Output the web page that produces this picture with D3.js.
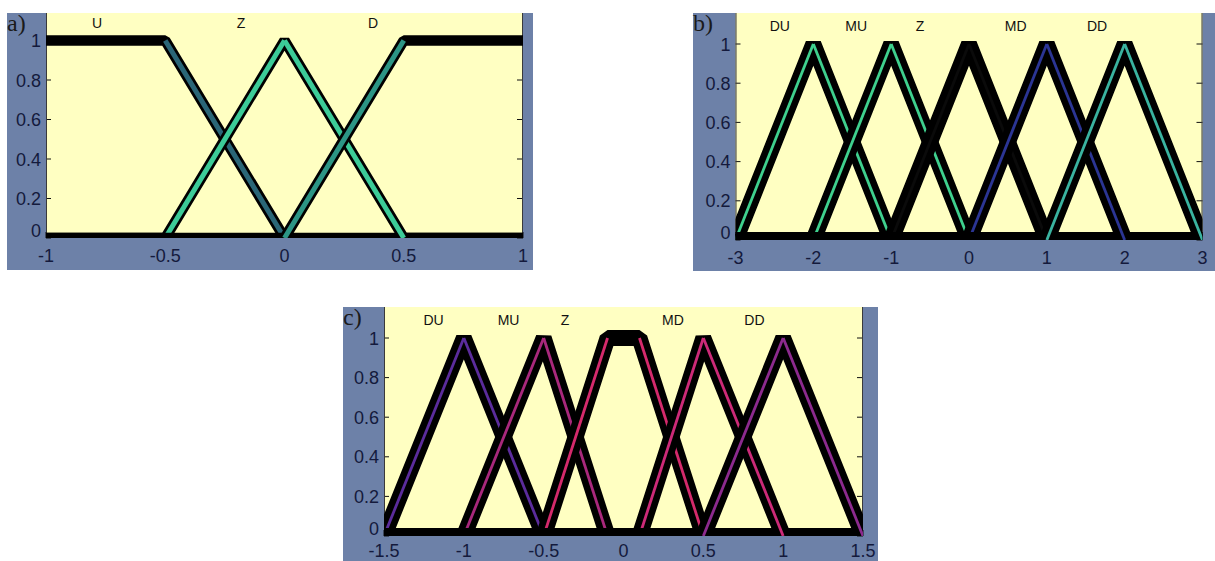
<!DOCTYPE html>
<html>
<head>
<meta charset="utf-8">
<script src="https://cdn.jsdelivr.net/npm/d3@7"></script>
<style>
  html, body { margin: 0; padding: 0; background: #ffffff; }
  svg { display: block; }
</style>
</head>
<body>
<svg id="fig" width="1215" height="561"></svg>
<script>
// ---- shared y axis ----
const yTicks = [0, 0.2, 0.4, 0.6, 0.8, 1];
const yTickLabels = ["0", "0.2", "0.4", "0.6", "0.8", "1"];

// ---- a) three membership functions on [-1, 1] ----
const aTicks = [-1, -0.5, 0, 0.5, 1];
const aTickLabels = ["-1", "-0.5", "0", "0.5", "1"];
const aNames = ["U", "Z", "D"];
const aLabelX = [-0.786, -0.182, 0.371];
const aU = [[-1, 1], [-0.5, 1], [0, 0], [1, 0]];
const aZ = [[-1, 0], [-0.5, 0], [0, 1], [0.5, 0], [1, 0]];
const aD = [[-1, 0], [0, 0], [0.5, 1], [1, 1]];

// ---- b) five membership functions on [-3, 3] ----
const bTicks = [-3, -2, -1, 0, 1, 2, 3];
const bTickLabels = ["-3", "-2", "-1", "0", "1", "2", "3"];
const bNames = ["DU", "MU", "Z", "MD", "DD"];
const bLabelX = [-2.43, -1.45, -0.63, 0.6, 1.645];
const bDU = [[-3, 0], [-2, 1], [-1, 0], [3, 0]];
const bMU = [[-3, 0], [-2, 0], [-1, 1], [0, 0], [3, 0]];
const bZ  = [[-3, 0], [-1, 0], [0, 1], [1, 0], [3, 0]];
const bMD = [[-3, 0], [0, 0], [1, 1], [2, 0], [3, 0]];
const bDD = [[-3, 0], [1, 0], [2, 1], [3, 0]];

// ---- c) five membership functions on [-1.5, 1.5] ----
const cTicks = [-1.5, -1, -0.5, 0, 0.5, 1, 1.5];
const cTickLabels = ["-1.5", "-1", "-0.5", "0", "0.5", "1", "1.5"];
const cNames = ["DU", "MU", "Z", "MD", "DD"];
const cLabelX = [-1.19, -0.72, -0.366, 0.31, 0.82];
const cDU = [[-1.5, 0], [-1, 1], [-0.5, 0], [1.5, 0]];
const cMU = [[-1.5, 0], [-1, 0], [-0.5, 1], [-0.1, 0], [1.5, 0]];
const cZ  = [[-1.5, 0], [-0.5, 0], [-0.1, 1], [0.1, 1], [0.5, 0], [1.5, 0]];
const cMD = [[-1.5, 0], [0.1, 0], [0.5, 1], [1, 0], [1.5, 0]];
const cDD = [[-1.5, 0], [0.5, 0], [1, 1], [1.5, 0]];

const panels = [
  {
    id: "a", tag: "a)",
    frame: { x0: 7, x1: 533, y0: 13, y1: 270 },
    plot: { left: 46, right: 523, top: 13, zero: 238, one: 40.5 },
    domain: [-1, 1], ticks: aTicks, tickLabels: aTickLabels,
    names: aNames, labelX: aLabelX,
    curves: [aU, aZ, aD],
    colors: ["#2a6677", "#3ccb98", "#2c9585"],
    outer: 10.5, inner: 5, labelDy: 23.5
  },
  {
    id: "b", tag: "b)",
    frame: { x0: 693, x1: 1215, y0: 13, y1: 271 },
    plot: { left: 735.5, right: 1202.5, top: 13, zero: 240, one: 44 },
    domain: [-3, 3], ticks: bTicks, tickLabels: bTickLabels,
    names: bNames, labelX: bLabelX,
    curves: [bDU, bMU, bZ, bMD, bDD],
    colors: ["#3fd08e", "#3fd08e", "#0a0a0a", "#2b3594", "#3ab3a0"],
    outer: 16, inner: 2.8, labelDy: 23.5
  },
  {
    id: "c", tag: "c)",
    frame: { x0: 343, x1: 878, y0: 307, y1: 561 },
    plot: { left: 384, right: 863, top: 307, zero: 536, one: 338 },
    domain: [-1.5, 1.5], ticks: cTicks, tickLabels: cTickLabels,
    names: cNames, labelX: cLabelX,
    curves: [cDU, cMU, cZ, cMD, cDD],
    colors: ["#5b2c9c", "#a8287c", "#d42a6c", "#cc2a78", "#8c2a8e"],
    outer: 16, inner: 2.8, labelDy: 20.5
  }
];

const svg = d3.select("#fig");
svg.append("rect").attr("width", 1215).attr("height", 561).attr("fill", "#ffffff");

const tickFont = "'Liberation Sans', Arial, sans-serif";

panels.forEach(p => {
  const g = svg.append("g");
  const x = d3.scaleLinear().domain(p.domain).range([p.plot.left, p.plot.right]);
  const y = d3.scaleLinear().domain([0, 1]).range([p.plot.zero, p.plot.one]);

  // figure background
  g.append("rect")
    .attr("x", p.frame.x0).attr("y", p.frame.y0)
    .attr("width", p.frame.x1 - p.frame.x0).attr("height", p.frame.y1 - p.frame.y0)
    .attr("fill", "#6d81a8");

  // axes area
  g.append("rect")
    .attr("x", p.plot.left).attr("y", p.plot.top)
    .attr("width", p.plot.right - p.plot.left).attr("height", p.plot.zero - p.plot.top)
    .attr("fill", "#ffffc2");

  const clipId = "clip-" + p.id;
  svg.append("clipPath").attr("id", clipId)
    .append("rect")
    .attr("x", p.plot.left).attr("y", p.plot.top)
    .attr("width", p.plot.right - p.plot.left).attr("height", p.plot.zero - p.plot.top);

  // tick marks (inside the axes)
  const tg = g.append("g").attr("stroke", "#111").attr("stroke-width", 1);
  yTicks.forEach(t => {
    tg.append("line").attr("x1", p.plot.left).attr("x2", p.plot.left + 5)
      .attr("y1", y(t)).attr("y2", y(t));
    tg.append("line").attr("x1", p.plot.right - 6).attr("x2", p.plot.right)
      .attr("y1", y(t)).attr("y2", y(t));
  });
  p.ticks.forEach(t => {
    tg.append("line").attr("x1", x(t)).attr("x2", x(t))
      .attr("y1", p.plot.zero).attr("y2", p.plot.zero - 6);
  });
  // left/right axis lines
  tg.append("line").attr("x1", p.plot.left + 0.5).attr("x2", p.plot.left + 0.5)
    .attr("y1", p.plot.top).attr("y2", p.plot.zero).attr("stroke", "#3a3a3a");
  tg.append("line").attr("x1", p.plot.right - 0.5).attr("x2", p.plot.right - 0.5)
    .attr("y1", p.plot.top).attr("y2", p.plot.zero).attr("stroke", "#3a3a3a");

  // membership function curves
  const cg = g.append("g").attr("clip-path", `url(#${clipId})`);
  const line = d3.line().x(d => x(d[0])).y(d => y(d[1]));
  p.curves.forEach((pts, i) => {
    cg.append("path")
      .attr("d", line(pts))
      .attr("fill", "none")
      .attr("stroke", "#000")
      .attr("stroke-width", p.outer)
      .attr("stroke-linejoin", "bevel")
      .attr("stroke-linecap", "butt");
    // coloured core on the sloped parts only
    for (let k = 0; k < pts.length - 1; k++) {
      if (pts[k][1] === pts[k + 1][1]) continue;
      cg.append("path")
        .attr("d", line([pts[k], pts[k + 1]]))
        .attr("fill", "none")
        .attr("stroke", p.colors[i])
        .attr("stroke-width", p.inner)
        .attr("stroke-linecap", "butt");
    }
  });

  // membership function names
  p.names.forEach((n, i) => {
    g.append("text")
      .attr("x", x(p.labelX[i]))
      .attr("y", y(1.065))
      .attr("text-anchor", "middle")
      .attr("font-family", tickFont)
      .attr("font-size", 14)
      .attr("fill", "#111")
      .text(n);
  });

  // y tick labels
  yTicks.forEach((t, i) => {
    g.append("text")
      .attr("x", p.plot.left - 5)
      .attr("y", t === 0 ? y(t) - 1 : y(t) + 6.5)
      .attr("text-anchor", "end")
      .attr("font-family", tickFont)
      .attr("font-size", 18)
      .attr("fill", "#141a3c")
      .text(yTickLabels[i]);
  });

  // x tick labels
  p.ticks.forEach((t, i) => {
    g.append("text")
      .attr("x", x(t))
      .attr("y", p.plot.zero + p.labelDy)
      .attr("text-anchor", "middle")
      .attr("font-family", tickFont)
      .attr("font-size", 18)
      .attr("fill", "#141a3c")
      .text(p.tickLabels[i]);
  });

  // panel tag
  g.append("text")
    .attr("x", p.frame.x0)
    .attr("y", p.frame.y0 + 18)
    .attr("font-family", "'Liberation Serif', 'Times New Roman', serif")
    .attr("font-size", 24)
    .attr("fill", "#1a1a1a")
    .text(p.tag);
});
</script>
</body>
</html>
